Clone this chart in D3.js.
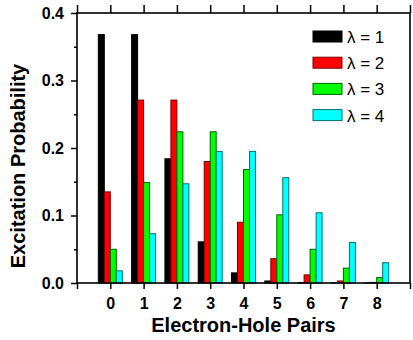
<!DOCTYPE html>
<html>
<head>
<meta charset="utf-8">
<script src="https://cdn.jsdelivr.net/npm/d3@7/dist/d3.min.js"></script>
<style>
  body { margin: 0; background: #fff; }
  svg text { font-family: "Liberation Sans", Arial, sans-serif; }
  .axis path { display: none; }
  .axis line { stroke: #000; stroke-width: 1.5; }
  .axis text { font-size: 16px; font-weight: bold; fill: #000; }
  .axis-title { font-size: 20px; font-weight: bold; }
  .legend text { font-size: 17px; }
</style>
</head>
<body>
<div id="chart"></div>
<script>
// Data (Poisson-looking probabilities)
var CATEGORIES = [0, 1, 2, 3, 4, 5, 6, 7, 8];
var SERIES_NAMES = ["\u03bb = 1", "\u03bb = 2", "\u03bb = 3", "\u03bb = 4"];
var LAMBDA_1 = [0.368, 0.368, 0.184, 0.061, 0.015, 0.003, 0.0005, 0.0001, 0.00001];
var LAMBDA_2 = [0.135, 0.271, 0.271, 0.180, 0.090, 0.036, 0.012, 0.003, 0.0009];
var LAMBDA_3 = [0.050, 0.149, 0.224, 0.224, 0.168, 0.101, 0.050, 0.022, 0.008];
var LAMBDA_4 = [0.018, 0.073, 0.147, 0.195, 0.195, 0.156, 0.104, 0.060, 0.030];
var Y_TICKS = [0, 0.1, 0.2, 0.3, 0.4];
var Y_MINOR_TICKS = [0.05, 0.15, 0.25, 0.35];

var FILLS = ["#000000", "#ff0000", "#00ff00", "#00ffff"];
var STROKES = ["#000000", "#7a0000", "#006400", "#007070"];

var render = function() {
  var width = 413;
  var height = 340;
  var margins = { top: 13, right: 3, bottom: 57, left: 77 };
  var chartWidth = width - margins.left - margins.right;
  var chartHeight = height - margins.top - margins.bottom;

  var series = [LAMBDA_1, LAMBDA_2, LAMBDA_3, LAMBDA_4].map(function(vals, i) {
    return {
      name: SERIES_NAMES[i],
      index: i,
      values: CATEGORIES.map((c, k) => ({ cat: c, amt: vals[k] }))
    };
  });

  var xScale = d3.scaleLinear().domain([-1, 9]).range([0, chartWidth]);
  var yScale = d3.scaleLinear().domain([0, 0.4]).range([chartHeight, 0]);
  var barWidth = 0.18; // in category units

  var svg = d3.select("#chart")
    .append("svg")
    .attr("width", width)
    .attr("height", height);

  var chartElement = svg.append("g")
    .attr("transform", `translate(${margins.left},${margins.top})`);

  // Bars
  chartElement.append("g")
    .attr("class", "bars")
    .selectAll("g")
    .data(series)
    .enter()
    .append("g")
    .attr("fill", d => FILLS[d.index])
    .attr("stroke", d => STROKES[d.index])
    .attr("stroke-width", 1)
    .each(function(s) {
      d3.select(this)
        .selectAll("rect")
        .data(s.values)
        .enter()
        .append("rect")
        .attr("x", d => xScale(d.cat + (s.index - 2) * barWidth))
        .attr("width", xScale(barWidth) - xScale(0))
        .attr("y", d => yScale(d.amt))
        .attr("height", d => yScale(0) - yScale(d.amt));
    });

  // Axes
  var xTicks = [-1].concat(CATEGORIES, [9]);
  var fmtX = d => (CATEGORIES.indexOf(d) >= 0 ? d : "");

  chartElement.append("g")
    .attr("class", "x axis")
    .attr("transform", `translate(0,${chartHeight})`)
    .call(d3.axisBottom(xScale).tickValues(xTicks).tickFormat(fmtX)
      .tickSize(6).tickPadding(9));

  chartElement.append("g")
    .attr("class", "x axis")
    .call(d3.axisTop(xScale).tickValues(xTicks).tickFormat("").tickSize(8));

  chartElement.append("g")
    .attr("class", "y axis")
    .call(d3.axisLeft(yScale).tickValues(Y_TICKS).tickFormat(d3.format(".1f"))
      .tickSize(6).tickPadding(7));

  chartElement.append("g")
    .attr("class", "y axis")
    .call(d3.axisLeft(yScale).tickValues(Y_MINOR_TICKS).tickFormat("").tickSize(3));

  // Frame
  chartElement.append("rect")
    .attr("width", chartWidth)
    .attr("height", chartHeight)
    .attr("fill", "none")
    .attr("stroke", "#000")
    .attr("stroke-width", 1.6);

  // Axis titles
  svg.append("text")
    .attr("class", "axis-title")
    .attr("x", margins.left + chartWidth / 2)
    .attr("y", 332)
    .attr("text-anchor", "middle")
    .text("Electron-Hole Pairs");

  svg.append("text")
    .attr("class", "axis-title")
    .attr("transform", "translate(25,166) rotate(-90)")
    .attr("text-anchor", "middle")
    .text("Excitation Probability");

  // Legend
  var legend = svg.append("g")
    .attr("class", "legend")
    .attr("transform", "translate(313,31)")
    .selectAll("g")
    .data(series)
    .enter()
    .append("g")
    .attr("transform", d => `translate(0,${d.index * 26.2})`);

  legend.append("rect")
    .attr("width", 29)
    .attr("height", 11)
    .attr("fill", d => FILLS[d.index])
    .attr("stroke", d => STROKES[d.index])
    .attr("stroke-width", 1);

  legend.append("text")
    .attr("x", 34)
    .attr("y", 12)
    .text(d => d.name);
};

window.onload = render;
</script>
</body>
</html>
